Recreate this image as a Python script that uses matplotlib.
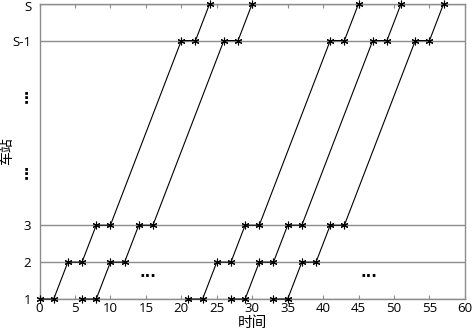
import matplotlib
matplotlib.use("Agg")
import matplotlib.pyplot as plt
import matplotlib.transforms as mtrans

plt.rcParams['font.family'] = ['Open Sans', 'Noto Sans CJK SC', 'DejaVu Sans']

# station index levels (1,2,3 ... S-1=8, S=9)
stations = [1, 1, 2, 2, 3, 3, 8, 8, 9]
# event times per train (arrive/depart at each station)
train_times = [
    [0, 2, 4, 6, 8, 10, 20, 22, 24],
    [6, 8, 10, 12, 14, 16, 26, 28, 30],
    [21, 23, 25, 27, 29, 31, 41, 43, 45],
    [27, 29, 31, 33, 35, 37, 47, 49, 51],
    [33, 35, 37, 39, 41, 43, 53, 55, 57],
]
ytick_vals = [1, 2, 3, 8, 9]
ytick_labels = ['1', '2', '3', 'S-1', 'S']
xticks = list(range(0, 61, 5))

fig = plt.figure(figsize=(4.72, 3.33), dpi=100)
ax = fig.add_axes([0.0837, 0.102, 0.985 - 0.0837, 0.989 - 0.102])

for y in ytick_vals:
    ax.axhline(y, color='#8c8c8c', lw=1.0, zorder=1)

for t in train_times:
    ax.plot(t, stations, color='black', lw=0.8, marker=(6, 2, 0), markersize=5.5,
            markeredgewidth=0.8, markeredgecolor='black', zorder=3, clip_on=False)

ax.set_xlim(0, 60)
ax.set_ylim(1, 9)
ax.set_xticks(xticks)
ax.set_xticklabels([str(v) for v in xticks])
ax.set_yticks(ytick_vals)
ax.set_yticklabels(ytick_labels)
ax.tick_params(axis='x', direction='in', top=True, length=3, color='#8c8c8c',
               labelsize=9.5, pad=2)
ax.tick_params(axis='y', length=0, labelsize=9.5, pad=6)
for s in ax.spines.values():
    s.set_color('#8c8c8c')
    s.set_linewidth(1.0)

# nudge top label so it stays inside the canvas
top_lbl = ax.get_yticklabels()[-1]
top_lbl.set_transform(top_lbl.get_transform() +
                      mtrans.ScaledTranslation(0, -2 / 72, fig.dpi_scale_trans))

# ellipsis marks
for yv in [4.4, 6.45]:
    ax.text(-1.9, yv, '⋮', ha='center', va='center', fontsize=11,
            fontweight='bold', family=['DejaVu Sans'], clip_on=False)
for xv in [15.3, 46.4]:
    ax.text(xv, 1.62, '···', ha='center', va='center', fontsize=11,
            fontweight='bold', family=['DejaVu Sans'])

ax.set_xlabel('时间', family=['Noto Sans CJK SC'], fontsize=10.5, labelpad=1)
ax.yaxis.set_label_coords(-0.06, 0.56)
ax.set_ylabel('车站', family=['Noto Sans CJK SC'], fontsize=10)

fig.savefig('out.png', dpi=100)
